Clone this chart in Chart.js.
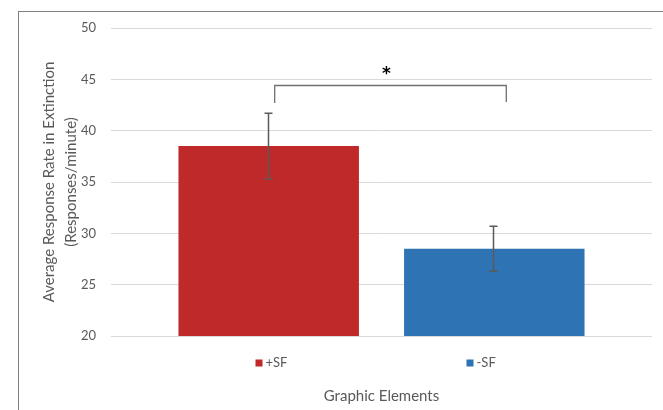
<!DOCTYPE html>
<html>
<head>
<meta charset="utf-8">
<script src="https://cdn.jsdelivr.net/npm/chart.js@4.4.1/dist/chart.umd.min.js"></script>
<style>
  html, body { margin: 0; padding: 0; background: #fff; }
  #wrap { position: relative; width: 663px; height: 410px; }
  #frame {
    position: absolute; left: 18px; top: 11px; right: 0; bottom: 0;
    border-left: 1px solid #808080; border-top: 1px solid #808080;
    pointer-events: none;
  }
</style>
</head>
<body>
<div id="wrap">
  <canvas id="chart" width="663" height="410"></canvas>
  <div id="frame"></div>
</div>
<script>
// ── Data ───────────────────────────────────────────────────────────────────────

const GROUPS  = ["+SF", "-SF"];
const MEANS   = [38.5, 28.5];
const ERRORS  = [3.2, 2.2];
const COLORS  = ["#C0292A", "#2E74B5"];
const Y_TICKS = [20, 25, 30, 35, 40, 45, 50];

// significance bracket (in y-axis units)
const BRACKET_Y    = 44.4;
const BRACKET_ENDS = [42.7, 42.8];
const SIG_LABEL    = "*";

const TEXT_GRAY = "#595959";
const FONT = "Lato, 'Open Sans', sans-serif";

// ── Plugins ────────────────────────────────────────────────────────────────────

const errorBars = {
  id: "errorBars",
  afterDatasetsDraw(chart) {
    const { ctx, scales: { y } } = chart;
    ctx.save();
    ctx.strokeStyle = "#5a5a5a";
    ctx.lineWidth = 1.5;
    MEANS.forEach((m, i) => {
      const bar = chart.getDatasetMeta(i).data[0];
      const x = Math.round(bar.x) - 0.5;
      const top = y.getPixelForValue(m + ERRORS[i]);
      const bot = y.getPixelForValue(m - ERRORS[i]);
      ctx.beginPath();
      ctx.moveTo(x, top); ctx.lineTo(x, bot);
      ctx.moveTo(x - 4, top); ctx.lineTo(x + 4, top);
      ctx.moveTo(x - 4, bot); ctx.lineTo(x + 4, bot);
      ctx.stroke();
    });
    ctx.restore();
  },
};

const sigBracket = {
  id: "sigBracket",
  afterDatasetsDraw(chart) {
    const { ctx, scales: { y } } = chart;
    const x0 = chart.getDatasetMeta(0).data[0].x + 6;
    const x1 = chart.getDatasetMeta(1).data[0].x + 12;
    const yb = y.getPixelForValue(BRACKET_Y);
    ctx.save();
    ctx.strokeStyle = "#707070";
    ctx.lineWidth = 1.3;
    ctx.beginPath();
    ctx.moveTo(x0, y.getPixelForValue(BRACKET_ENDS[0]));
    ctx.lineTo(x0, yb);
    ctx.lineTo(x1, yb);
    ctx.lineTo(x1, y.getPixelForValue(BRACKET_ENDS[1]));
    ctx.stroke();
    ctx.fillStyle = "#000";
    ctx.font = "bold 17px 'DejaVu Sans', sans-serif";
    ctx.textAlign = "center";
    ctx.textBaseline = "alphabetic";
    ctx.fillText(SIG_LABEL, (x0 + x1) / 2 - 4, yb - 6);
    ctx.restore();
  },
};

// Excel-style legend sitting between the plot and the axis title
const bottomLegend = {
  id: "bottomLegend",
  afterDraw(chart) {
    const { ctx, chartArea } = chart;
    const cx = (chartArea.left + chartArea.right) / 2;
    const y = chartArea.bottom + 27;
    let x = cx - 126;
    ctx.save();
    ctx.font = `13px ${FONT}`;
    ctx.textBaseline = "middle";
    ctx.textAlign = "left";
    GROUPS.forEach((g, i) => {
      ctx.fillStyle = COLORS[i];
      ctx.fillRect(x, y - 3.5, 7, 7);
      ctx.fillStyle = TEXT_GRAY;
      ctx.fillText(g, x + 10, y);
      x += 211;
    });
    ctx.restore();
  },
};

// ── Chart ──────────────────────────────────────────────────────────────────────

new Chart(document.getElementById("chart"), {
  type: "bar",
  data: {
    labels: [""],
    datasets: GROUPS.map((g, i) => ({
      label: g,
      data: [MEANS[i]],
      backgroundColor: COLORS[i],
      categoryPercentage: 0.834,
      barPercentage: 0.8,
    })),
  },
  options: {
    responsive: false,
    animation: false,
    layout: { padding: { top: 28, right: 11, left: 0, bottom: 0 } },
    plugins: {
      legend: { display: false },
      tooltip: { enabled: false },
    },
    scales: {
      x: {
        grid: { display: false },
        border: { display: false },
        ticks: { display: false },
        title: {
          display: true,
          text: "Graphic Elements",
          color: TEXT_GRAY,
          font: { family: FONT, size: 15 },
          padding: { top: 0, bottom: 5 },
        },
        afterFit: s => { s.height = 74; },
      },
      y: {
        min: Y_TICKS[0],
        max: Y_TICKS[Y_TICKS.length - 1],
        afterBuildTicks: s => { s.ticks = Y_TICKS.map(v => ({ value: v })); },
        grid: { color: "#d9d9d9", drawTicks: false },
        border: { display: false },
        ticks: {
          color: TEXT_GRAY,
          padding: 15,
          font: { family: FONT, size: 13 },
        },
        title: {
          display: true,
          text: ["Average Response Rate in Extinction", "(Responses/minute)"],
          color: TEXT_GRAY,
          font: { family: FONT, size: 15, lineHeight: 1.467 },
          padding: { top: 38, bottom: 0 },
        },
        afterFit: s => { s.width = 111; },
      },
    },
  },
  plugins: [errorBars, sigBracket, bottomLegend],
});
</script>
</body>
</html>
